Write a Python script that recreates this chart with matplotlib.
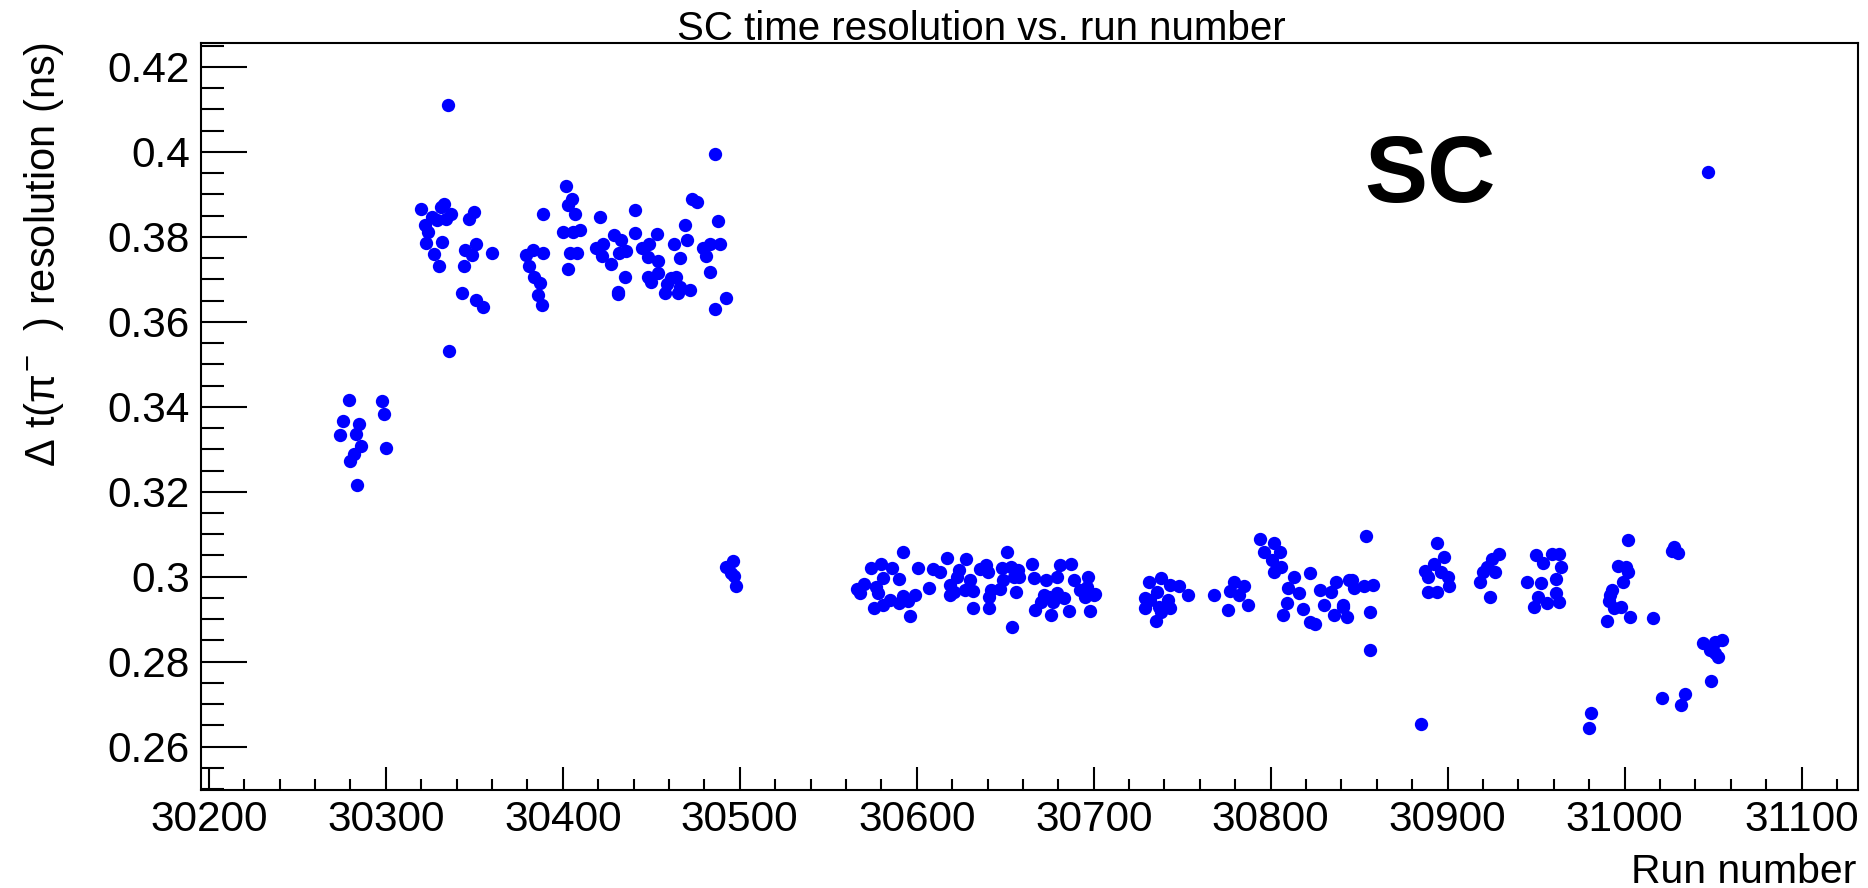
import numpy as np
import matplotlib.pyplot as plt
from matplotlib.ticker import MultipleLocator, FuncFormatter

plt.rcParams['font.family'] = ['Liberation Sans', 'DejaVu Sans']
plt.rcParams['mathtext.fontset'] = 'custom'
plt.rcParams['mathtext.rm'] = 'Liberation Sans'
plt.rcParams['mathtext.it'] = 'Liberation Sans'

# run numbers and SC time resolution (ns)
run_number = [
    # 30270 - 30300
    30279, 30298, 30299, 30276, 30285, 30274, 30283, 30286, 30300, 30282, 30280, 30284,
    # 30320 - 30360
    30335, 30320, 30326, 30331, 30333, 30337, 30334, 30329, 30322, 30324, 30323, 30332,
    30327, 30330, 30347, 30350, 30345, 30351, 30349, 30344, 30360, 30343, 30351, 30355,
    30336,
    # 30380 - 30410
    30402, 30405, 30403, 30407, 30400, 30406, 30404, 30403, 30389, 30379, 30383, 30389,
    30381, 30384, 30387, 30386, 30388,
    # 30410 - 30495
    30486, 30473, 30476, 30441, 30421, 30488, 30469, 30441, 30453, 30429, 30433, 30470,
    30410, 30463, 30483, 30489, 30479, 30423, 30419, 30436, 30432, 30445, 30449, 30408,
    30422, 30448, 30454, 30466, 30481, 30427, 30483, 30454, 30448, 30435, 30450, 30461,
    30464, 30459, 30466, 30472, 30458, 30465, 30431, 30431, 30492, 30486,
    30496, 30492, 30495, 30497, 30498,
    # 30565 - 30700
    30592, 30574, 30580, 30586, 30601, 30581, 30590, 30570, 30566, 30568, 30577, 30578,
    30607, 30585, 30592, 30599, 30590, 30595, 30576, 30596, 30581, 30609, 30613, 30617,
    30628, 30624, 30623, 30619, 30639, 30640, 30636, 30630, 30627, 30632, 30621, 30619,
    30632, 30641, 30651, 30648, 30653, 30657, 30658, 30655, 30649, 30642, 30641, 30647,
    30656, 30654, 30665, 30666, 30673, 30679, 30681, 30687, 30672, 30675, 30679, 30677,
    30683, 30670, 30667, 30676, 30686, 30692, 30689, 30697, 30696, 30700, 30695, 30698,
    30701,
    # 30725 - 30860
    30731, 30738, 30743, 30748, 30753, 30736, 30732, 30729, 30737, 30742, 30738, 30735,
    30729, 30743, 30768, 30779, 30785, 30777, 30782, 30787, 30776,
    30794, 30802, 30796, 30805, 30801, 30806, 30802, 30813, 30822, 30810, 30816, 30809,
    30807, 30818, 30822, 30825, 30828, 30834, 30837, 30830, 30836, 30841, 30844,
    30846, 30847, 30841, 30843, 30854, 30853, 30858, 30856, 30856,
    # 30885 - 30965
    30885, 30894, 30898, 30892, 30887, 30889, 30896, 30900, 30901, 30889, 30894,
    30929, 30925, 30922, 30920, 30918, 30927, 30924,
    30950, 30954, 30959, 30963, 30964, 30961, 30953, 30945, 30951, 30949, 30956, 30961,
    30963,
    # 30980 - 31055
    31002, 31028, 31030, 31027, 30996, 31001, 31002, 30999, 30993, 30992, 30991, 30994,
    30998, 30990, 31003, 31016, 31044, 31051, 31055, 31048, 31053, 31051, 31049, 31021,
    31034, 31032, 30981, 30980, 31047,
]

resolution = [
    0.3417, 0.3414, 0.3384, 0.3367, 0.3359, 0.3333, 0.3337, 0.3308, 0.3304, 0.3290, 0.3272, 0.3216,
    0.4110, 0.3865, 0.3847, 0.3871, 0.3877, 0.3855, 0.3843, 0.3839, 0.3828, 0.3812, 0.3786, 0.3789,
    0.3759, 0.3731, 0.3843, 0.3859, 0.3769, 0.3784, 0.3757, 0.3731, 0.3761, 0.3669, 0.3651, 0.3635,
    0.3532,
    0.3919, 0.3890, 0.3875, 0.3855, 0.3812, 0.3812, 0.3763, 0.3724, 0.3855, 0.3757, 0.3770, 0.3761,
    0.3731, 0.3706, 0.3692, 0.3663, 0.3639,
    0.3995, 0.3890, 0.3882, 0.3863, 0.3847, 0.3837, 0.3829, 0.3808, 0.3806, 0.3804, 0.3792, 0.3792,
    0.3817, 0.3783, 0.3783, 0.3784, 0.3773, 0.3784, 0.3773, 0.3767, 0.3762, 0.3773, 0.3784, 0.3761,
    0.3755, 0.3753, 0.3744, 0.3751, 0.3754, 0.3735, 0.3718, 0.3715, 0.3706, 0.3706, 0.3694, 0.3702,
    0.3706, 0.3690, 0.3682, 0.3676, 0.3667, 0.3668, 0.3671, 0.3665, 0.3655, 0.3631,
    0.3038, 0.3022, 0.3008, 0.3002, 0.2978,
    0.3059, 0.3020, 0.3031, 0.3020, 0.3020, 0.2996, 0.2994, 0.2984, 0.2970, 0.2962, 0.2975, 0.2961,
    0.2973, 0.2945, 0.2955, 0.2957, 0.2939, 0.2943, 0.2926, 0.2908, 0.2933, 0.3017, 0.3012, 0.3043,
    0.3041, 0.3016, 0.3000, 0.2980, 0.3028, 0.3012, 0.3017, 0.2992, 0.2969, 0.2967, 0.2965, 0.2957,
    0.2926, 0.2926, 0.3059, 0.3020, 0.3024, 0.3016, 0.3000, 0.3000, 0.2992, 0.2969, 0.2953, 0.2970,
    0.2965, 0.2882, 0.3031, 0.2996, 0.2992, 0.3000, 0.3028, 0.3031, 0.2957, 0.2953, 0.2961, 0.2941,
    0.2949, 0.2941, 0.2922, 0.2910, 0.2919, 0.2969, 0.2992, 0.3000, 0.2976, 0.2957, 0.2953, 0.2919,
    0.2960,
    0.2988, 0.2996, 0.2980, 0.2978, 0.2957, 0.2965, 0.2945, 0.2926, 0.2929, 0.2945, 0.2918, 0.2896,
    0.2949, 0.2926, 0.2957, 0.2988, 0.2978, 0.2967, 0.2957, 0.2933, 0.2922,
    0.3088, 0.3079, 0.3059, 0.3059, 0.3039, 0.3024, 0.3012, 0.3000, 0.3009, 0.2973, 0.2961, 0.2937,
    0.2910, 0.2923, 0.2894, 0.2889, 0.2969, 0.2965, 0.2988, 0.2933, 0.2910, 0.2929, 0.2992,
    0.2992, 0.2973, 0.2933, 0.2906, 0.3096, 0.2978, 0.2980, 0.2918, 0.2828,
    0.2653, 0.3079, 0.3047, 0.3031, 0.3013, 0.2999, 0.3012, 0.3000, 0.2978, 0.2965, 0.2965,
    0.3053, 0.3041, 0.3024, 0.3012, 0.2988, 0.3012, 0.2953,
    0.3051, 0.3032, 0.3053, 0.3053, 0.3024, 0.2994, 0.2986, 0.2988, 0.2952, 0.2928, 0.2937, 0.2962,
    0.2940,
    0.3086, 0.3069, 0.3056, 0.3061, 0.3025, 0.3024, 0.3012, 0.2988, 0.2969, 0.2957, 0.2943, 0.2926,
    0.2928, 0.2896, 0.2904, 0.2902, 0.2843, 0.2847, 0.2851, 0.2828, 0.2812, 0.2820, 0.2755, 0.2714,
    0.2724, 0.2698, 0.2680, 0.2643, 0.3953,
]

fig = plt.figure(figsize=(18.68, 8.88), dpi=100)
ax = fig.add_axes([0.1076, 0.1104, 0.887, 0.841])

ax.scatter(run_number, resolution, s=92, color='#0000ff', linewidths=0, zorder=3)

ax.set_xlim(30195.6, 31131.8)
ax.set_ylim(0.2498, 0.4256)

ax.xaxis.set_major_locator(MultipleLocator(100))
ax.xaxis.set_minor_locator(MultipleLocator(20))
ax.yaxis.set_major_locator(MultipleLocator(0.02))
ax.yaxis.set_minor_locator(MultipleLocator(0.005))
ax.yaxis.set_major_formatter(FuncFormatter(lambda v, p: '%g' % round(v, 4)))
ax.xaxis.set_major_formatter(FuncFormatter(lambda v, p: '%d' % v))

ax.tick_params(axis='both', which='both', direction='in', top=False, right=False,
               width=1.5, labelsize=30.5, colors='black')
ax.tick_params(axis='y', which='major', length=33, pad=8)
ax.tick_params(axis='y', which='minor', length=16.5)
ax.tick_params(axis='x', which='major', length=16.5, pad=7)
ax.tick_params(axis='x', which='minor', length=8)
for sp in ax.spines.values():
    sp.set_linewidth(1.5)

fig.text(981 / 1868, 1 - 40 / 888, 'SC time resolution vs. run number',
         ha='center', va='baseline', fontsize=29)
fig.text(1856 / 1868, 1 - 883 / 888, 'Run number', ha='right', va='baseline', fontsize=29.5)
fig.text(44 / 1868, 1 - 42 / 888, r'$\Delta$ t($\pi^{-}$  ) resolution (ns)',
         rotation=90, ha='center', va='top', fontsize=30)
ax.text(1430 / 1868, 1 - 202 / 888, 'SC', transform=fig.transFigure,
        ha='center', va='baseline', fontsize=68, fontweight='bold')

fig.savefig('out.png', dpi=100)
